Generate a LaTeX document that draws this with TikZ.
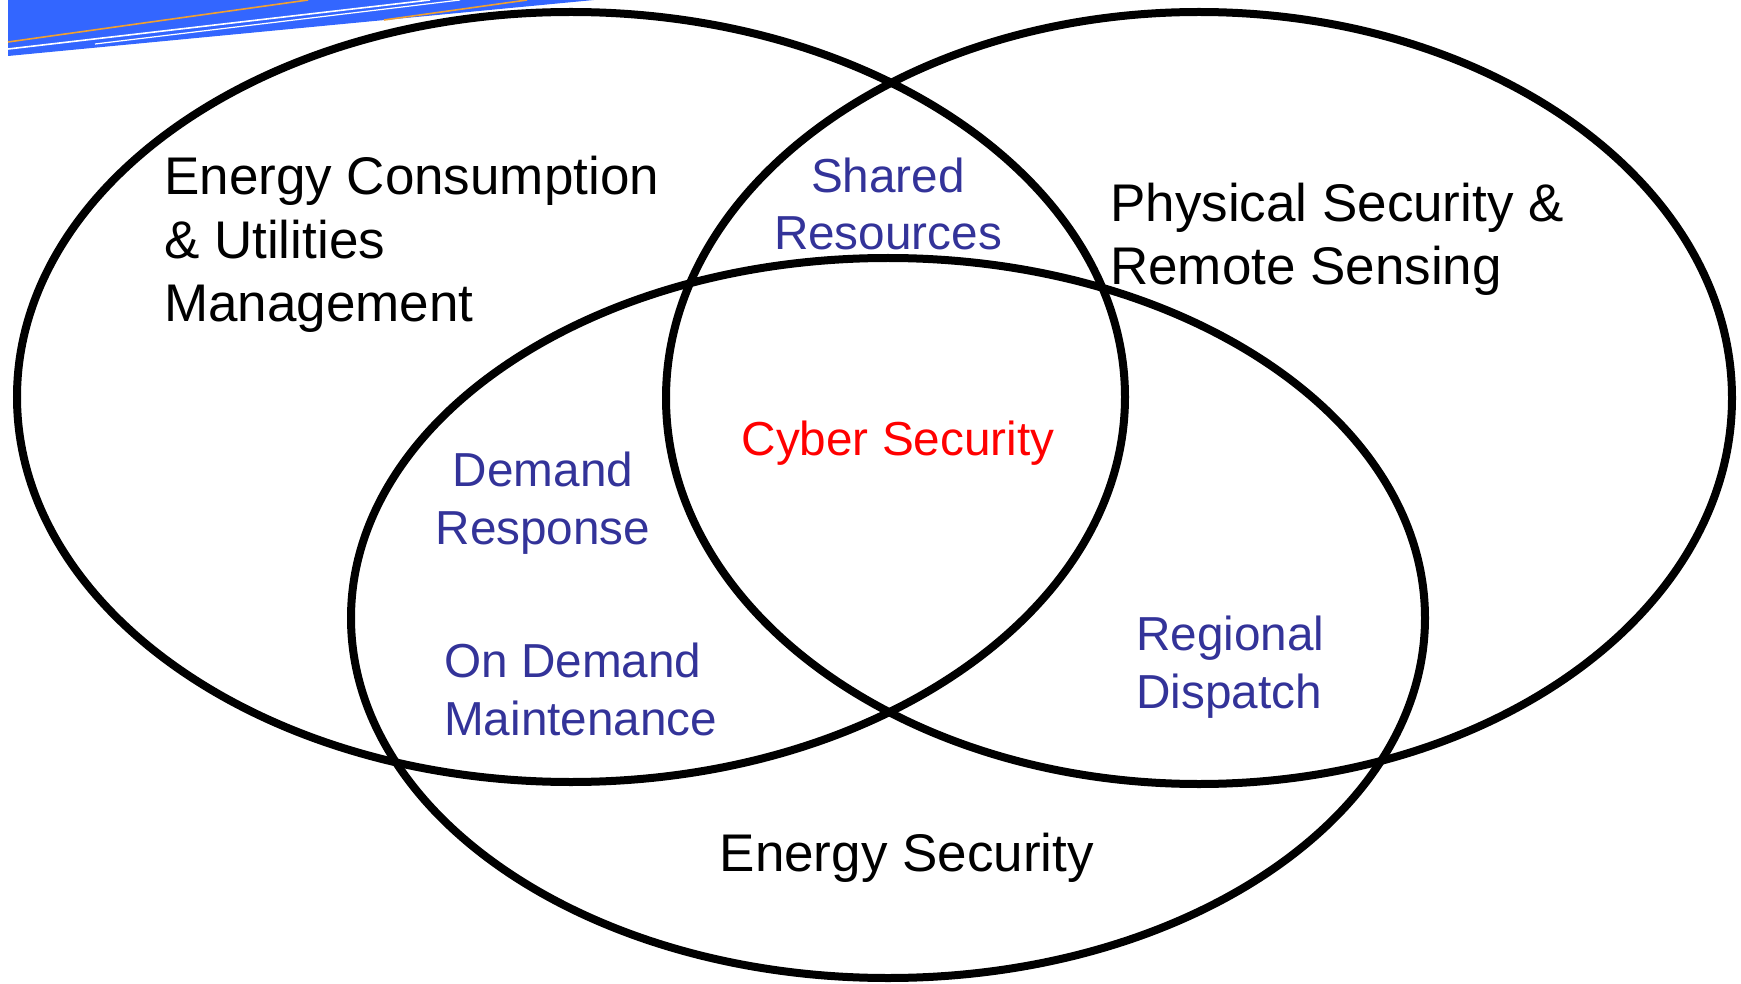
\documentclass[tikz,border=0pt]{standalone}
\usepackage{fontspec}
\setmainfont{Liberation Sans}
\definecolor{bannerblue}{RGB}{51,102,255}
\definecolor{bannerorange}{RGB}{240,160,48}
\definecolor{labelblue}{RGB}{51,51,153}
\definecolor{labelred}{RGB}{255,0,0}
\tikzset{
  vset/.style={draw=black, line width=8pt},
  bigtext/.style={inner sep=0pt, align=left, text=black, font=\fontsize{53}{63.5}\selectfont},
  subtext/.style={inner sep=0pt, text=labelblue, font=\fontsize{47.7}{57.5}\selectfont},
}
\begin{document}
\begin{tikzpicture}[x=1pt,y=-1pt]
\useasboundingbox (0,0) rectangle (1741,984);
% banner
\fill[bannerblue] (8,0) -- (594,0) -- (8,56) -- cycle;
\draw[bannerorange, line width=1.6pt] (8,42) -- (308,0);
\draw[bannerorange, line width=1.6pt] (384,20) -- (527,0);
\draw[white, line width=1.6pt] (8,49) -- (430,0);
\draw[white, line width=1.2pt] (95,44) -- (460,0);
% ellipses
\draw[vset] (571,397) ellipse [x radius=554, y radius=385];
\draw[vset] (1199,398) ellipse [x radius=533, y radius=386];
\draw[vset] (888,618) ellipse [x radius=537, y radius=360];
% labels (multi-line nodes are placed by the baseline of their last line)
\node[bigtext, anchor=base west] (ec) at (164,322) {Energy Consumption\\\& Utilities\\Management};
\node[bigtext, anchor=base west] (ps) at (1110,285) {Physical Security \&\\Remote Sensing};
\node[bigtext, anchor=base west] (es) at (719.5,871.5) {Energy Security};
\node[subtext, align=center, anchor=base] (sr) at (888,250) {Shared\\Resources};
\node[subtext, text=labelred, anchor=base] (cs) at (898,455) {Cyber Security};
\node[subtext, align=center, anchor=base] (dr) at (543,544) {Demand\\Response};
\node[subtext, align=left, anchor=base west] (odm) at (444,735) {On Demand\\Maintenance};
\node[subtext, align=left, anchor=base west] (rd) at (1136,708) {Regional\\Dispatch};
\end{tikzpicture}
\end{document}
